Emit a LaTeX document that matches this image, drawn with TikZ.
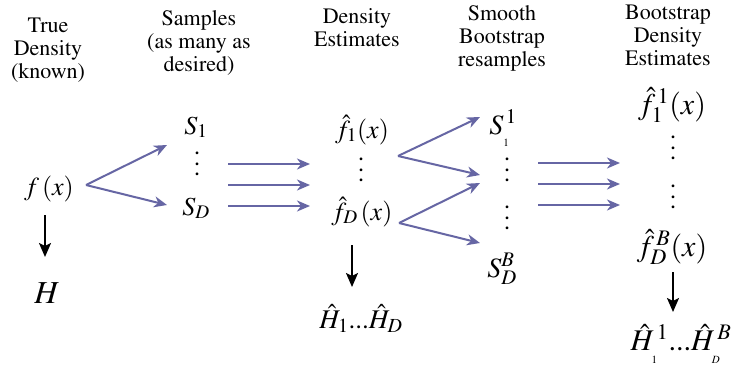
\documentclass[tikz,border=0pt]{standalone}
\usepackage[T1]{fontenc}
\usepackage{mathptmx}
\usepackage{amsmath}
\usetikzlibrary{arrows.meta, positioning, calc}
\definecolor{flow}{RGB}{102,102,164}

\newcommand{\vdts}{\vbox{\baselineskip=10.5pt\lineskiplimit=0pt\hbox{.}\hbox{.}\hbox{.}}}
\newcommand{\lowsub}[1]{\raisebox{-6pt}{\fontsize{11}{11}\selectfont #1}}

\begin{document}
\begin{tikzpicture}[
    x=1pt, y=-1pt,
    head/.style={align=center, font=\fontsize{22}{23}\selectfont, inner sep=0pt, anchor=north},
    term/.style={inner sep=0pt, anchor=base, font=\fontsize{26}{30}\selectfont},
    bigterm/.style={term, font=\fontsize{30}{34}\selectfont},
    dots/.style={inner sep=0pt, font=\fontsize{26}{30}\selectfont},
    flowarrow/.style={-{Stealth[length=13pt,width=11pt,inset=4pt]}, color=flow, line width=2pt},
    down/.style={-{Stealth[length=14pt,width=12pt,inset=3pt]}, line width=2pt}
]
\useasboundingbox[fill=white] (0,0) rectangle (734,369);

% column headers
\node[head] (hTrue) at (48,18) {True\\Density\\(known)};
\node[head] (hSamp) at (199,10) {Samples\\(as many as\\desired)};
\node[head] (hDens) at (357,8) {Density\\Estimates};
\node[head] (hSmooth) at (502,5) {Smooth\\Bootstrap\\resamples};
\node[head] (hBoot) at (668,5) {Bootstrap\\Density\\Estimates};

% true density
\node[term] (fx) at (49,195) {$f\,(x)$};
\node[term, font=\fontsize{32}{36}\selectfont] (H) at (47,303) {$H$};

% samples
\node[term] (S1) at (196,134) {$S_1$};
\node[dots] (vdS) at (197,164) {\vdts};
\node[term] (SD) at (196,215) {$S_D$};

% density estimates
\node[term] (f1) at (362,138) {$\hat{f}_1(x)$};
\node[dots] (vdf) at (361,170) {\vdts};
\node[term] (fD) at (362,220) {$\hat{f}_D\,(x)$};
\node[term, font=\fontsize{27}{31}\selectfont] (Hh) at (361,328) {$\hat{H}_1\mbox{...}\hat{H}_D$};

% smooth bootstrap resamples
\node[term, font=\fontsize{28}{32}\selectfont] (S11) at (503,134) {$S^{\,1}_{\lowsub{1}}$};
\node[dots] (vdB1) at (507,170) {\vdts};
\node[dots] (vdB2) at (507,218) {\vdts};
\node[term, font=\fontsize{28}{32}\selectfont] (SBD) at (502,277) {$S^B_D$};

% bootstrap density estimates
\node[bigterm] (f11) at (672,114) {$\hat{f}^{\,1}_1(x)$};
\node[dots] (vdR1) at (673,148) {\vdts};
\node[dots] (vdR2) at (673,197) {\vdts};
\node[bigterm] (fBD) at (672,256) {$\hat{f}^{\,B}_D(x)$};
\node[bigterm] (HBD) at (681,350) {$\hat{H}^{\,1}_{\lowsub{1}}\mbox{...}\hat{H}^{\,B}_{\lowsub{\itshape D}}$};

% fork points
\coordinate (fkA) at ([shift={(37,-10)}]fx.base);
\coordinate (fkB) at ([shift={(36,18)}]f1.base);
\coordinate (fkC) at ([shift={(37,3)}]fD.base);

\draw[flowarrow] (fkA) -- ([shift={(-29,11)}]S1.base);
\draw[flowarrow] (fkA) -- ([shift={(-29,-10)}]SD.base);
\draw[flowarrow] (fkB) -- ([shift={(-23,-17)}]S11.base);
\draw[flowarrow] (fkB) -- ([shift={(-27,5)}]vdB1.center);
\draw[flowarrow] (fkC) -- ([shift={(-27,13)}]vdB1.center);
\draw[flowarrow] (fkC) -- ([shift={(-22,-34)}]SBD.base);

\foreach \dy in {0,21,42}{
  \draw[flowarrow] ([shift={(31,\dy)}]vdS.center) -- ([shift={(-51,\dy-6)}]vdf.center);
  \draw[flowarrow] ([shift={(31,\dy-7)}]vdB1.center) -- ([shift={(-53,\dy+15)}]vdR1.center);
}

\draw[down] ([shift={(-4,20)}]fx.base) -- ([shift={(-2,-46)}]H.base);
\draw[down] ([shift={(-10,25)}]fD.base) -- ([shift={(-9,-41)}]Hh.base);
\draw[down] ([shift={(1,16)}]fBD.base) -- ([shift={(-8,-38)}]HBD.base);

\end{tikzpicture}
\end{document}
